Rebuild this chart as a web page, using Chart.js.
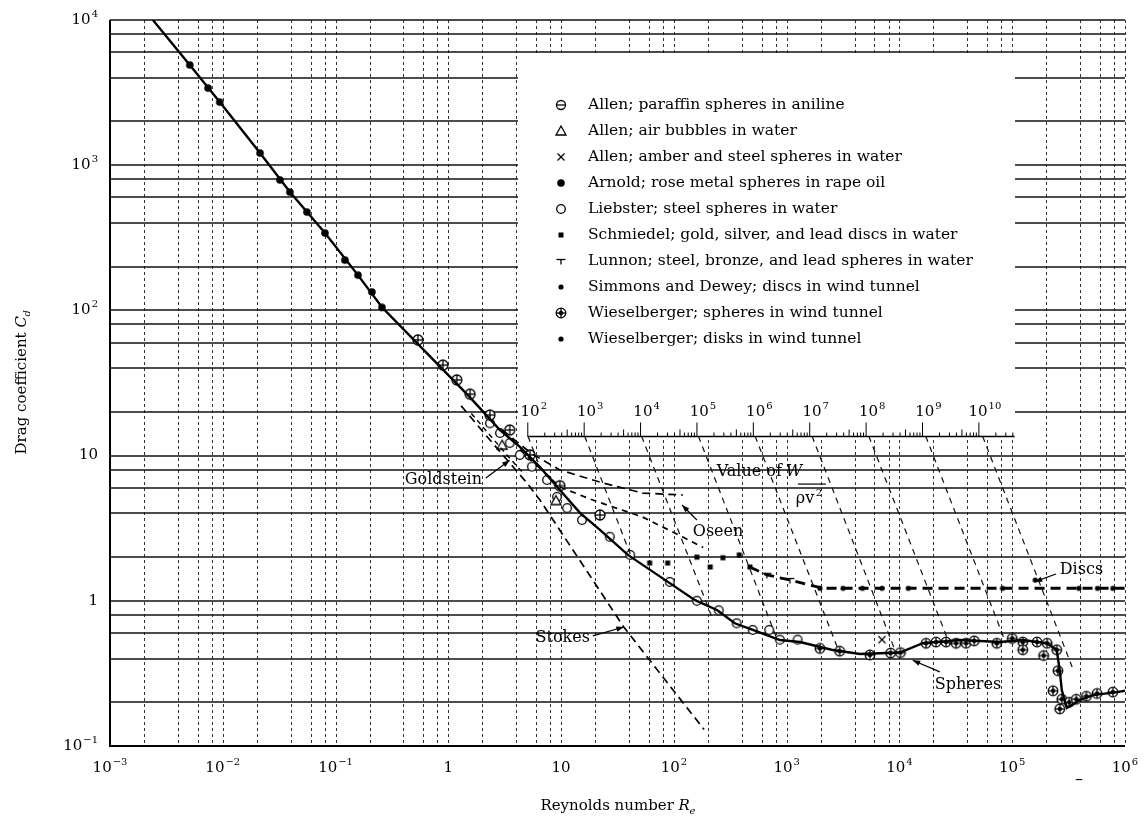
<!DOCTYPE html>
<html>
<head>
<meta charset="utf-8">
<script src="https://cdn.jsdelivr.net/npm/chart.js@4.4.1/dist/chart.umd.min.js"></script>
<style>
  body { margin: 0; background: #fff; }
  #box { width: 1148px; height: 820px; }
</style>
</head>
<body>
<div id="box"><canvas id="dragChart" width="1148" height="820"></canvas></div>
<script>
// ---- axis ticks ----
const xDecades = [1e-3, 1e-2, 1e-1, 1, 10, 1e2, 1e3, 1e4, 1e5, 1e6];
const xDecadeBase = ['10', '10', '10', '1', '10', '10', '10', '10', '10', '10'];
const xDecadeExp = ['\u22123', '\u22122', '\u22121', '', '', '2', '3', '4', '5', '6'];
const yDecades = [1e-1, 1, 10, 1e2, 1e3, 1e4];
const yDecadeBase = ['10', '1', '10', '10', '10', '10'];
const yDecadeExp = ['\u22121', '', '', '2', '3', '4'];
const gridSteps = [1, 2, 4, 6, 8];

// secondary scale: value of W / (rho nu^2)
const wTicks = [1e2, 1e3, 1e4, 1e5, 1e6, 1e7, 1e8, 1e9, 1e10];
const wTickExp = ['2', '3', '4', '5', '6', '7', '8', '9', '10'];
const wAxisCd = 13.6;
const wMin = 3.9e-6;
const wMax = 3.9e12;
const wAxisEnd = 4.3e10;

// ---- curves ----
const sphereRe = [0.0024, 0.0051, 0.0094, 0.0214, 0.0394, 0.0806, 0.158, 0.258, 0.632, 1.55, 2.87, 4.31, 6.49, 9.75, 14.7, 22.1, 39.1, 88.5, 154, 241, 347, 501, 871, 1310, 2500, 4460, 10090, 16100, 34300, 77600, 124000, 203000, 248000, 264000, 275000, 305000, 397000, 519000, 846000, 1000000];
const sphereCd = [10000, 4900, 2720, 1213, 653, 341, 175, 105, 51.6, 25.3, 15.0, 11.5, 8.34, 5.79, 4.03, 3.08, 2.07, 1.35, 1.01, 0.865, 0.70, 0.63, 0.537, 0.52, 0.46, 0.43, 0.44, 0.51, 0.537, 0.52, 0.537, 0.51, 0.46, 0.33, 0.243, 0.183, 0.207, 0.224, 0.235, 0.24];

const discRe = [472, 667, 1067, 2090, 34300, 1000000];
const discCd = [1.71, 1.51, 1.39, 1.22, 1.22, 1.22];

const oseenRe = [3.0, 5.5, 9.75, 23.4, 53, 120];
const oseenCd = [15, 10.3, 7.96, 6.48, 5.52, 5.35];

const discLowRe = [4.3, 9.75, 19.1, 53, 120, 182];
const discLowCd = [11, 6.08, 4.94, 3.77, 2.75, 2.33];

const stokesRe = [1.3, 2.34, 4.98, 6.49, 19.1, 35.9, 185];
const stokesCd = [22, 12.8, 6.48, 4.94, 1.39, 0.66, 0.13];

const goldsteinRe = [1.6, 2.5, 3.5, 4.6];
const goldsteinCd = [19.5, 13.0, 9.6, 7.6];

// lines of constant W/(rho nu^2), from the upper scale down to the sphere curve
const wLineStartRe = [5.08, 16.2, 51.7, 165, 525, 1680, 5350, 17100, 54600];
const wLineEndRe = [6.6, 41, 215, 810, 2900, 9300, 27900, 88000, 340000];
const wLineEndCd = [8.05, 2.1, 0.79, 0.56, 0.45, 0.44, 0.5, 0.51, 0.35];

// ---- observations ----
const legendNames = [
  'Allen; paraffin spheres in aniline',
  'Allen; air bubbles in water',
  'Allen; amber and steel spheres in water',
  'Arnold; rose metal spheres in rape oil',
  'Liebster; steel spheres in water',
  'Schmiedel; gold, silver, and lead discs in water',
  'Lunnon; steel, bronze, and lead spheres in water',
  'Simmons and Dewey; discs in wind tunnel',
  'Wieselberger; spheres in wind tunnel',
  'Wieselberger; disks in wind tunnel'
];
const legendSymbols = ['theta', 'tri', 'cross', 'dot', 'ring', 'square', 'lunnon', 'small', 'star', 'small'];
const plotSymbols = ['plus', 'tri', 'cross', 'dot', 'ring', 'square', 'lunnon', 'small', 'star', 'small'];

const allenParaffinRe = [0.537, 0.895, 1.19, 1.56, 2.34, 3.5, 5.3, 9.75, 22.1];
const allenParaffinCd = [62.6, 42, 33.2, 26.5, 19, 15, 10.1, 6.2, 3.9];
const allenBubbleRe = [3.0, 9.0];
const allenBubbleCd = [11.8, 4.9];
const allenAmberRe = [7000];
const allenAmberCd = [0.54];
const arnoldRe = [0.0051, 0.0074, 0.0094, 0.0214, 0.0321, 0.0394, 0.0557, 0.0806, 0.121, 0.158, 0.21, 0.258];
const arnoldCd = [4900, 3400, 2720, 1213, 791, 653, 476, 341, 222, 175, 134, 105];
const liebsterRe = [2.34, 2.87, 3.5, 4.3, 5.5, 7.5, 9.2, 11.3, 15.3, 27, 41, 92, 160, 250, 360, 500, 700, 870, 1250];
const liebsterCd = [16.7, 14.3, 12.2, 10.1, 8.4, 6.8, 5.2, 4.35, 3.6, 2.76, 2.07, 1.35, 1.0, 0.86, 0.70, 0.63, 0.63, 0.54, 0.54];
const schmiedelRe = [61, 88, 160, 210, 272, 380, 472];
const schmiedelCd = [1.82, 1.82, 2.0, 1.71, 1.98, 2.07, 1.71];
const lunnonRe = [667, 1067];
const lunnonCd = [1.51, 1.39];
const simmonsRe = [4700, 7000, 12000, 82000, 390000, 570000, 780000];
const simmonsCd = [1.22, 1.22, 1.22, 1.22, 1.22, 1.22, 1.22];
const wieselSphRe = [1970, 2950, 5470, 8350, 10200, 17200, 21100, 25900, 31800, 39000, 46000, 73000, 100000, 124000, 166000, 204000, 248000, 124000, 190000, 254000, 230000, 275000, 264000, 320000, 370000, 455000, 565000, 780000];
const wieselSphCd = [0.47, 0.45, 0.424, 0.437, 0.44, 0.51, 0.52, 0.52, 0.51, 0.51, 0.53, 0.51, 0.55, 0.52, 0.52, 0.51, 0.46, 0.46, 0.42, 0.33, 0.24, 0.21, 0.18, 0.2, 0.21, 0.22, 0.23, 0.235];
const wieselDiskRe = [1970, 3160, 160000];
const wieselDiskCd = [1.22, 1.22, 1.39];

const markerRe = [allenParaffinRe, allenBubbleRe, allenAmberRe, arnoldRe, liebsterRe, schmiedelRe, lunnonRe, simmonsRe, wieselSphRe, wieselDiskRe];
const markerCd = [allenParaffinCd, allenBubbleCd, allenAmberCd, arnoldCd, liebsterCd, schmiedelCd, lunnonCd, simmonsCd, wieselSphCd, wieselDiskCd];

// curve names written on the plot: text anchor and arrow, in data values
const notes = [
  { text: 'Goldstein', re: 1.99, cd: 6.8, align: 'right', fromRe: 2.15, fromCd: 7.0, tipRe: 3.5, tipCd: 9.3 },
  { text: 'Oseen', re: 147, cd: 2.98, align: 'left', fromRe: 160, fromCd: 3.6, tipRe: 118, tipCd: 4.57 },
  { text: 'Stokes', re: 18, cd: 0.555, align: 'right', fromRe: 19.1, fromCd: 0.573, tipRe: 36, tipCd: 0.66 },
  { text: 'Spheres', re: 20600, cd: 0.263, align: 'left', fromRe: 22800, fromCd: 0.324, tipRe: 13100, tipCd: 0.39 },
  { text: 'Discs', re: 264000, cd: 1.63, align: 'left', fromRe: 244000, fromCd: 1.53, tipRe: 158000, tipCd: 1.35 }
];

const serif = "'DejaVu Serif', 'Liberation Serif', serif";

function drawSymbol(g, kind, x, y) {
  g.save();
  g.strokeStyle = '#000';
  g.fillStyle = '#000';
  g.lineWidth = 1.3;
  const ring = (r) => { g.beginPath(); g.arc(x, y, r, 0, 2 * Math.PI); g.fillStyle = '#fff'; g.fill(); g.stroke(); g.fillStyle = '#000'; };
  const seg = (x1, y1, x2, y2) => { g.beginPath(); g.moveTo(x1, y1); g.lineTo(x2, y2); g.stroke(); };
  if (kind === 'theta') { ring(4.5); seg(x - 4.5, y, x + 4.5, y); }
  else if (kind === 'plus') { ring(5); seg(x - 5, y, x + 5, y); seg(x, y - 5, x, y + 5); }
  else if (kind === 'tri') { g.beginPath(); g.moveTo(x, y - 5); g.lineTo(x + 5, y + 4); g.lineTo(x - 5, y + 4); g.closePath(); g.fillStyle = '#fff'; g.fill(); g.stroke(); }
  else if (kind === 'cross') { seg(x - 3.5, y - 3.5, x + 3.5, y + 3.5); seg(x - 3.5, y + 3.5, x + 3.5, y - 3.5); }
  else if (kind === 'dot') { g.beginPath(); g.arc(x, y, 3.8, 0, 2 * Math.PI); g.fill(); }
  else if (kind === 'ring') { ring(4.3); }
  else if (kind === 'square') { g.fillRect(x - 2.5, y - 2.5, 5, 5); }
  else if (kind === 'lunnon') { seg(x - 4.5, y - 1.5, x + 4.5, y - 1.5); seg(x, y - 1.5, x, y + 3.5); }
  else if (kind === 'small') { g.beginPath(); g.arc(x, y, 2.6, 0, 2 * Math.PI); g.fill(); }
  else if (kind === 'star') { ring(4.8); g.beginPath(); g.arc(x, y, 2.2, 0, 2 * Math.PI); g.fill(); seg(x - 4.8, y, x + 4.8, y); seg(x, y - 4.8, x, y + 4.8); }
  g.restore();
}

function symbolCanvas(kind) {
  const c = document.createElement('canvas');
  c.width = 18;
  c.height = 18;
  drawSymbol(c.getContext('2d'), kind, 9, 9);
  return c;
}

function points(re, cd) {
  return re.map((r, i) => ({ x: r, y: cd[i] }));
}

// text with a raised exponent, e.g. 10^-3
function drawPow(ctx, base, exp, x, y, align, size) {
  ctx.font = size + 'px ' + serif;
  const wb = ctx.measureText(base).width;
  ctx.font = Math.round(size * 0.64) + 'px ' + serif;
  const we = exp ? ctx.measureText(exp).width + 1 : 0;
  let left = x;
  if (align === 'center') left = x - (wb + we) / 2;
  if (align === 'right') left = x - (wb + we);
  ctx.textAlign = 'left';
  ctx.textBaseline = 'middle';
  ctx.font = size + 'px ' + serif;
  ctx.fillText(base, left, y);
  if (exp) {
    ctx.font = Math.round(size * 0.64) + 'px ' + serif;
    ctx.fillText(exp, left + wb + 1, y - size * 0.38);
  }
}

const xGridValues = [];
for (let e = -3; e <= 5; e++) gridSteps.forEach(m => xGridValues.push(m * Math.pow(10, e)));
xGridValues.push(1e6);
const yGridValues = [];
for (let e = -1; e <= 3; e++) gridSteps.forEach(m => yGridValues.push(m * Math.pow(10, e)));
yGridValues.push(1e4);

const paperGrid = {
  id: 'paperGrid',
  beforeDatasetsDraw(chart) {
    const { ctx, chartArea: a, scales: { x, y } } = chart;
    ctx.save();
    ctx.strokeStyle = '#333';
    ctx.lineWidth = 1;
    ctx.setLineDash([3, 3]);
    xGridValues.forEach(v => {
      const p = Math.round(x.getPixelForValue(v)) + 0.5;
      ctx.beginPath(); ctx.moveTo(p, a.top); ctx.lineTo(p, a.bottom); ctx.stroke();
    });
    ctx.setLineDash([]);
    ctx.strokeStyle = '#111';
    ctx.lineWidth = 1.7;
    yGridValues.forEach(v => {
      const p = Math.round(y.getPixelForValue(v));
      ctx.beginPath(); ctx.moveTo(a.left, p); ctx.lineTo(a.right, p); ctx.stroke();
    });
    // blank patch behind the key and the upper scale
    const wy = y.getPixelForValue(wAxisCd);
    ctx.fillStyle = '#fff';
    ctx.fillRect(518, 56, 497, wy - 56);
    // frame
    ctx.strokeStyle = '#000';
    ctx.lineWidth = 2;
    ctx.beginPath();
    ctx.moveTo(a.left, a.top); ctx.lineTo(a.left, a.bottom); ctx.lineTo(a.right, a.bottom);
    ctx.stroke();
    ctx.restore();
  }
};

function arrow(ctx, x1, y1, x2, y2) {
  ctx.beginPath(); ctx.moveTo(x1, y1); ctx.lineTo(x2, y2); ctx.stroke();
  const ang = Math.atan2(y2 - y1, x2 - x1);
  ctx.beginPath();
  ctx.moveTo(x2, y2);
  ctx.lineTo(x2 - 8 * Math.cos(ang - 0.35), y2 - 8 * Math.sin(ang - 0.35));
  ctx.lineTo(x2 - 8 * Math.cos(ang + 0.35), y2 - 8 * Math.sin(ang + 0.35));
  ctx.closePath();
  ctx.fill();
}

const paperText = {
  id: 'paperText',
  afterDatasetsDraw(chart) {
    const { ctx, chartArea: a, scales: { x, y, w } } = chart;
    ctx.save();
    ctx.fillStyle = '#000';
    ctx.strokeStyle = '#000';

    // tick labels
    xDecades.forEach((v, i) => drawPow(ctx, xDecadeBase[i], xDecadeExp[i], x.getPixelForValue(v), a.bottom + 22, 'center', 15));
    yDecades.forEach((v, i) => drawPow(ctx, yDecadeBase[i], yDecadeExp[i], a.left - 12, y.getPixelForValue(v), 'right', 15));

    // upper scale W / rho nu^2
    const wy = Math.round(y.getPixelForValue(wAxisCd)) + 0.5;
    ctx.lineWidth = 1.4;
    ctx.beginPath();
    ctx.moveTo(w.getPixelForValue(wTicks[0]), wy);
    ctx.lineTo(w.getPixelForValue(wAxisEnd), wy);
    ctx.stroke();
    ctx.lineWidth = 1;
    wTicks.forEach((t, i) => {
      const p = w.getPixelForValue(t);
      ctx.beginPath(); ctx.moveTo(p, wy); ctx.lineTo(p, wy - 14); ctx.stroke();
      for (let m = 2; m <= 9; m++) {
        if (t * m > wAxisEnd) break;
        const q = w.getPixelForValue(t * m);
        ctx.beginPath(); ctx.moveTo(q, wy); ctx.lineTo(q, wy - (m === 5 ? 7 : 4)); ctx.stroke();
      }
      drawPow(ctx, '10', wTickExp[i], p + 6, wy - 24, 'center', 15);
    });

    // "Value of W / rho nu^2"
    const vx = x.getPixelForValue(944);
    const vy = y.getPixelForValue(7.46);
    ctx.font = '16px ' + serif;
    ctx.textAlign = 'right';
    ctx.textBaseline = 'middle';
    ctx.fillText('Value of', vx - 2, vy - 2);
    ctx.font = 'italic 16px ' + serif;
    ctx.textAlign = 'left';
    ctx.fillText('W', vx + 2, vy - 2);
    ctx.lineWidth = 1.2;
    ctx.beginPath(); ctx.moveTo(vx + 14, vy + 10); ctx.lineTo(vx + 42, vy + 10); ctx.stroke();
    ctx.font = '16px ' + serif;
    ctx.fillText('\u03C1v', vx + 12, vy + 25);
    ctx.font = '10px ' + serif;
    ctx.fillText('2', vx + 32, vy + 19);

    // curve names
    ctx.lineWidth = 1.2;
    notes.forEach(n => {
      ctx.font = '16px ' + serif;
      ctx.textAlign = n.align;
      ctx.textBaseline = 'middle';
      ctx.fillText(n.text, x.getPixelForValue(n.re), y.getPixelForValue(n.cd));
      arrow(ctx, x.getPixelForValue(n.fromRe), y.getPixelForValue(n.fromCd), x.getPixelForValue(n.tipRe), y.getPixelForValue(n.tipCd));
    });

    // key
    ctx.font = '15.5px ' + serif;
    ctx.textAlign = 'left';
    ctx.textBaseline = 'middle';
    legendNames.forEach((name, i) => {
      const ly = 105 + i * 26;
      drawSymbol(ctx, legendSymbols[i], 561, ly);
      ctx.fillStyle = '#000';
      ctx.fillText(name, 588, ly);
    });

    // stray mark under the axis
    ctx.font = '16px ' + serif;
    ctx.textAlign = 'center';
    ctx.fillText('\u2013', x.getPixelForValue(3.9e5), a.bottom + 34);

    // axis titles
    ctx.font = '15px ' + serif;
    ctx.textAlign = 'left';
    const t1 = 'Reynolds number ';
    const tw = ctx.measureText(t1).width;
    const tx = (a.left + a.right) / 2 - (tw + 16) / 2;
    ctx.fillText(t1, tx, 806);
    ctx.font = 'italic 15px ' + serif;
    ctx.fillText('R', tx + tw, 806);
    ctx.font = 'italic 10px ' + serif;
    ctx.fillText('e', tx + tw + 11, 811);

    ctx.translate(22, (a.top + a.bottom) / 2);
    ctx.rotate(-Math.PI / 2);
    ctx.font = '15px ' + serif;
    const t2 = 'Drag coefficient ';
    const t2w = ctx.measureText(t2).width;
    ctx.textAlign = 'left';
    const start = -(t2w + 16) / 2;
    ctx.fillText(t2, start, 0);
    ctx.font = 'italic 15px ' + serif;
    ctx.fillText('C', start + t2w, 0);
    ctx.font = 'italic 10px ' + serif;
    ctx.fillText('d', start + t2w + 11, 5);
    ctx.restore();
  }
};

// ---- datasets ----
const datasets = [];
wLineStartRe.forEach((r, i) => {
  datasets.push({
    data: [{ x: r, y: wAxisCd }, { x: wLineEndRe[i], y: wLineEndCd[i] }],
    showLine: true, borderColor: '#111', borderWidth: 1.2, borderDash: [6, 5], pointRadius: 0
  });
});
const curveSets = [
  { re: sphereRe, cd: sphereCd, width: 2.4, dash: [] },
  { re: discRe, cd: discCd, width: 2.8, dash: [10, 6] },
  { re: oseenRe, cd: oseenCd, width: 1.7, dash: [8, 5] },
  { re: discLowRe, cd: discLowCd, width: 1.7, dash: [6, 5] },
  { re: stokesRe, cd: stokesCd, width: 1.7, dash: [8, 5] },
  { re: goldsteinRe, cd: goldsteinCd, width: 1.4, dash: [5, 4] }
];
curveSets.forEach(c => {
  datasets.push({
    data: points(c.re, c.cd),
    showLine: true, borderColor: '#000', borderWidth: c.width, borderDash: c.dash, pointRadius: 0
  });
});
markerRe.forEach((re, i) => {
  datasets.push({
    label: legendNames[i],
    data: points(re, markerCd[i]),
    showLine: false,
    pointStyle: symbolCanvas(plotSymbols[i]),
    pointRadius: 5
  });
});

new Chart(document.getElementById('dragChart'), {
  type: 'scatter',
  data: { datasets },
  options: {
    responsive: false,
    animation: false,
    layout: { padding: { top: 20, right: 23, left: 0, bottom: 0 } },
    plugins: { legend: { display: false }, tooltip: { enabled: false } },
    elements: { line: { tension: 0 } },
    scales: {
      x: {
        type: 'logarithmic', min: 1e-3, max: 1e6,
        ticks: { display: false }, grid: { display: false }, border: { display: false },
        afterFit(s) { s.height = 74; }
      },
      y: {
        type: 'logarithmic', min: 0.1, max: 1e4,
        ticks: { display: false }, grid: { display: false }, border: { display: false },
        afterFit(s) { s.width = 110; }
      },
      w: {
        type: 'logarithmic', axis: 'x', position: { y: wAxisCd },
        min: wMin, max: wMax, display: false
      }
    }
  },
  plugins: [paperGrid, paperText]
});
</script>
</body>
</html>
